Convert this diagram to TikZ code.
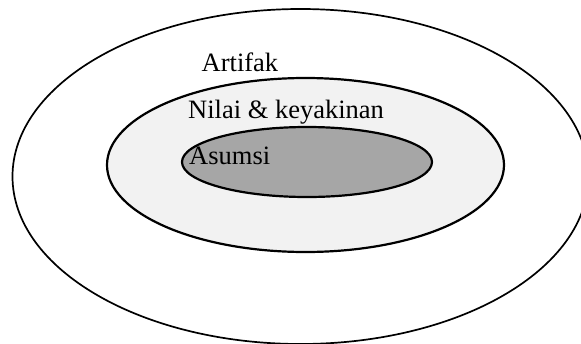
\documentclass[tikz,border=0pt]{standalone}
\usepackage{fontspec}
\setmainfont{Liberation Serif}
\usetikzlibrary{shapes.geometric}
\definecolor{lightfill}{HTML}{F2F2F2}
\definecolor{darkfill}{HTML}{A6A6A6}
\tikzset{
  ring/.style={ellipse, draw=black, inner sep=0pt, outer sep=0pt},
  lbl/.style={anchor=base west, inner sep=0pt, font=\fontsize{26.5}{31}\selectfont}
}
\begin{document}
\begin{tikzpicture}[x=1pt,y=-1pt]
\useasboundingbox (0,0) rectangle (581,343);
\node[ring, line width=1.7pt, minimum width=576pt, minimum height=335pt] (outer) at (300.5,176.5) {};
\node[ring, line width=2.2pt, fill=lightfill, minimum width=397pt, minimum height=174pt] (middle) at (305.5,165) {};
\node[ring, line width=2.2pt, fill=darkfill, minimum width=250pt, minimum height=70pt] (inner) at (307,162) {};
\node[lbl] (artifak) at (201.5,71.5) {Artifak};
\node[lbl] (nilai) at (188,118) {Nilai \& keyakinan};
\node[lbl] (asumsi) at (189,164) {Asumsi};
\end{tikzpicture}
\end{document}
